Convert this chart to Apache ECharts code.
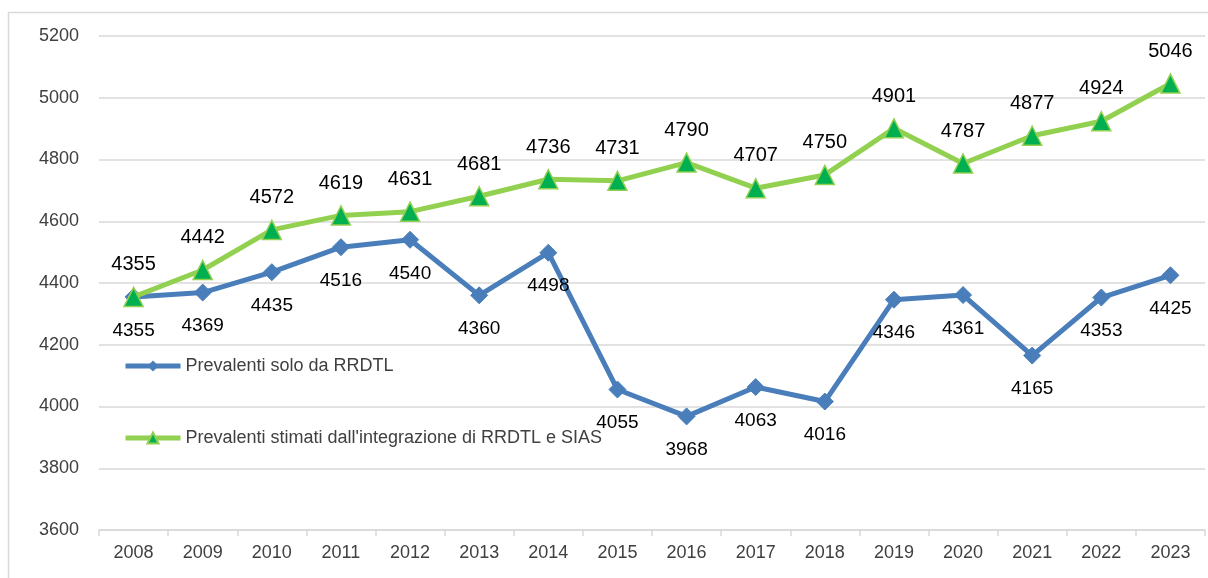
<!DOCTYPE html>
<html><head><meta charset="utf-8">
<script src="https://cdn.jsdelivr.net/npm/echarts@6/dist/echarts.min.js"></script>
<style>html,body{margin:0;padding:0;background:#fff}#c{width:1208px;height:578px}</style>
</head><body><div id="c"></div>
<script>
const years = ['2008','2009','2010','2011','2012','2013','2014','2015','2016','2017','2018','2019','2020','2021','2022','2023'];
const rrdtl = [4355,4369,4435,4516,4540,4360,4498,4055,3968,4063,4016,4346,4361,4165,4353,4425];
const integr = [4355,4442,4572,4619,4631,4681,4736,4731,4790,4707,4750,4901,4787,4877,4924,5046];
const seriesNames = ['Prevalenti solo da RRDTL', "Prevalenti stimati dall'integrazione di RRDTL e SIAS"];
const font = '"Liberation Sans", Arial, sans-serif';
const chart = echarts.init(document.getElementById('c'), null, {renderer:'canvas'});
chart.setOption({
  animation:false,
  backgroundColor:'#fff',
  graphic:[{type:'rect',shape:{x:8.5,y:12.5,width:1220,height:600},style:{fill:'none',stroke:'#d9d9d9',lineWidth:1.5},silent:true,z:-10}],
  grid:{left:99,right:3,top:36,bottom:48},
  legend:{
    orient:'vertical',left:118,top:352,itemWidth:55,itemHeight:14,itemGap:54,
    lineStyle:{width:5},
    textStyle:{fontFamily:font,fontSize:18,color:'#404040'},
    data:seriesNames
  },
  xAxis:{type:'category',data:years,boundaryGap:true,
    axisLine:{lineStyle:{color:'#d9d9d9',width:1.5}},
    axisTick:{show:true,length:6,lineStyle:{color:'#d9d9d9',width:1.5}},
    axisLabel:{fontFamily:font,fontSize:18,color:'#404040',margin:14}
  },
  yAxis:{type:'value',min:3600,max:5200,interval:200,
    axisLine:{show:false},axisTick:{show:false},
    splitLine:{lineStyle:{color:'#d9d9d9',width:1.5}},
    axisLabel:{fontFamily:font,fontSize:18,color:'#404040',margin:20,formatter:function(v){return String(v);}}
  },
  series:[
    {name:seriesNames[0],type:'line',data:rrdtl,symbol:'diamond',symbolSize:17,
      lineStyle:{color:'#4a7ebb',width:5},itemStyle:{color:'#4a7ebb',borderColor:'#4a7ebb'},
      label:{show:true,position:'bottom',distance:15,fontFamily:font,fontSize:19,color:'#000'},z:2},
    {name:seriesNames[1],type:'line',data:integr,symbol:'triangle',symbolSize:19,
      lineStyle:{color:'#92d050',width:5},itemStyle:{color:'#00b050',borderColor:'#92d050',borderWidth:1.5},
      label:{show:true,position:'top',distance:12,fontFamily:font,fontSize:20,color:'#000'},z:3}
  ]
});
</script></body></html>
